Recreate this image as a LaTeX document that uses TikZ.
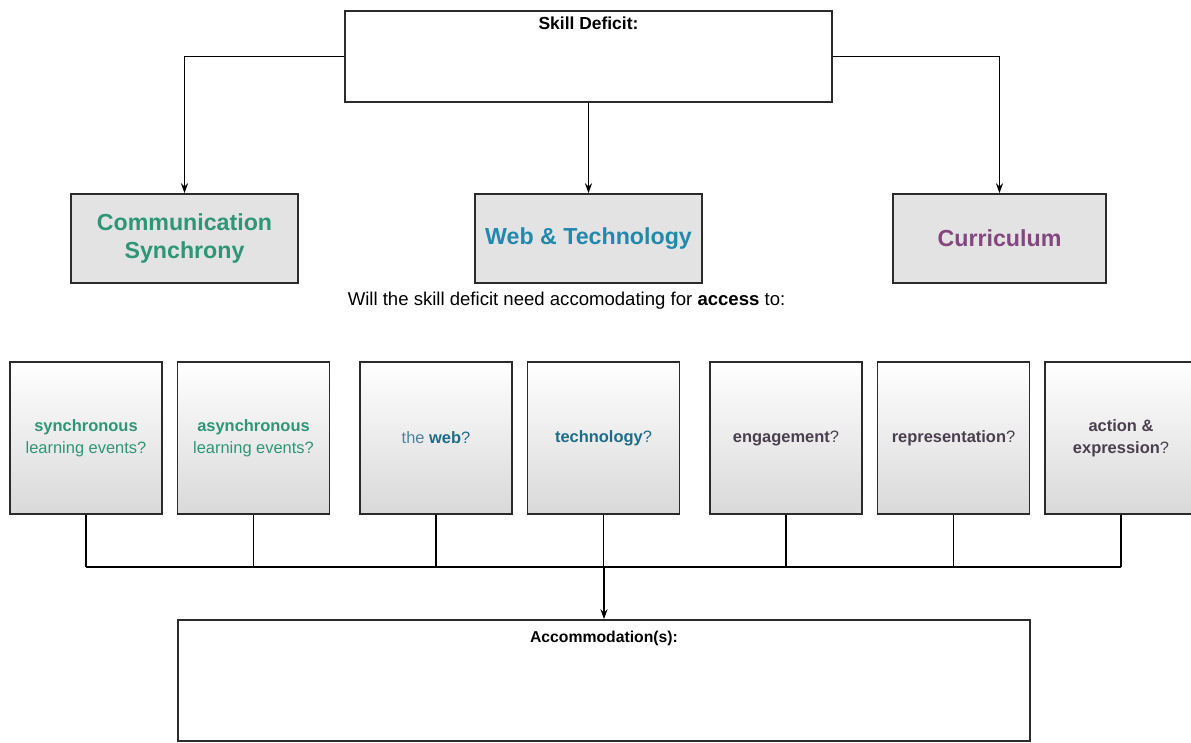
\documentclass[tikz,border=0pt]{standalone}
\usepackage{fontspec}
\setmainfont{Liberation Sans}
\usepackage{xcolor}
\usepackage{tikz}
\usetikzlibrary{arrows.meta,positioning,calc}

\definecolor{commgreen}{HTML}{2E9577}
\definecolor{webblue}{HTML}{2388AE}
\definecolor{currpurple}{HTML}{83467F}
\definecolor{udlgray}{HTML}{4A3F4E}
\definecolor{edgegray}{HTML}{2B2B2B}

\begin{document}
\begin{tikzpicture}[>={Stealth[length=7pt,width=5pt]},x=0.025cm,y=-0.025cm,
  line width=1.1pt,
  bigbox/.style={draw=edgegray,line width=1.2pt,fill=white,inner sep=0pt},
  area/.style={draw=edgegray,line width=1.2pt,fill=black!11,inner sep=0pt,
    minimum height=2.225cm,font=\fontsize{16.5}{20.5}\selectfont\bfseries,align=center},
  askbox/.style={draw=edgegray,line width=1.2pt,top color=white,middle color=white!95!gray,
    bottom color=black!15,minimum width=3.8cm,minimum height=3.8cm,inner sep=0pt,
    font=\fontsize{11.7}{16}\selectfont,align=center},
  title/.style={anchor=north,inner sep=0pt,font=\bfseries}]
\useasboundingbox (0,0) rectangle (1191,743);
\clip (0,0) rectangle (1191,743);
% skill deficit and the three areas
\node[bigbox,minimum width=12.175cm,minimum height=2.275cm] (skill) at (588.5,56.5) {};
\node[title,font=\fontsize{12.4}{14}\selectfont\bfseries] (skilltitle) at (588.5,16) {Skill Deficit:};
\node[area,minimum width=5.675cm,text=commgreen] (comm) at (184.5,238.5) {Communication\\Synchrony};
\node[area,minimum width=5.675cm,text=webblue] (web) at (588.5,238.5) {Web \& Technology};
\node[area,minimum width=5.325cm,text=currpurple] (curr) at (999.5,238.5) {Curriculum};
\draw[->] (skill.west) -| (comm.north);
\draw[->] (skill.south) -- (web.north);
\draw[->] (skill.east) -| (curr.north);
% access questions
\node[font=\fontsize{13.2}{15}\selectfont] (ask) at (566.5,301) {Will the skill deficit need accomodating for \textbf{access} to:};
\node[askbox,text=commgreen] (q1) at (86,438) {\textbf{synchronous}\\learning events?};
\node[askbox,text=commgreen] (q2) at (253.5,438) {\textbf{asynchronous}\\learning events?};
\node[askbox,text=webblue!80!black] (q3) at (436,438) {\textcolor{webblue!55!gray}{the} \textbf{web}?};
\node[askbox,text=webblue!80!black] (q4) at (603.5,438) {\textbf{technology}?};
\node[askbox,text=udlgray] (q5) at (786,438) {\textbf{engagement}?};
\node[askbox,text=udlgray] (q6) at (953.5,438) {\textbf{representation}?};
\node[askbox,text=udlgray] (q7) at (1121,438) {\textbf{action \&}\\\textbf{expression}?};
% accommodations
\node[bigbox,minimum width=21.3cm,minimum height=3.025cm] (acc) at (604,680.5) {};
\node[title,font=\fontsize{11.2}{13}\selectfont\bfseries] (acctitle) at (604,630) {Accommodation(s):};
\coordinate (bus) at (604,567);
\foreach \q in {q1,q2,q3,q4,q5,q6,q7}
  \draw (\q.south) -- (\q.south |- bus);
\draw (q1.south |- bus) -- (q7.south |- bus);
\draw[->] (bus) -- (acc.north);
\end{tikzpicture}
\end{document}
